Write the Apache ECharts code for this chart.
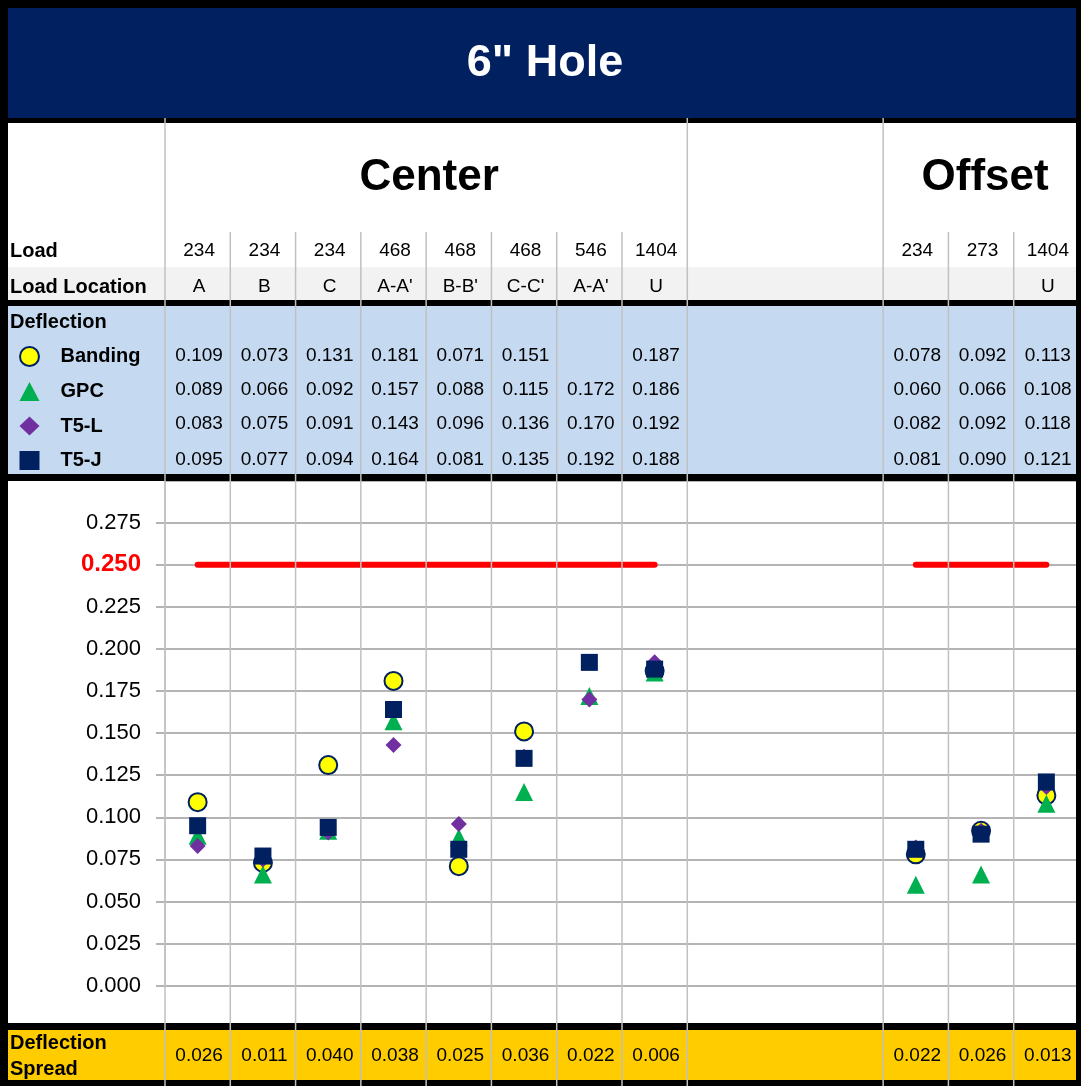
<!DOCTYPE html>
<html>
<head>
<meta charset="utf-8">
<script src="https://cdn.jsdelivr.net/npm/echarts@6/dist/echarts.min.js"></script>
<style>
  html, body { margin: 0; padding: 0; background: #fff; }
  #main { width: 1081px; height: 1086px; }
</style>
</head>
<body>
<div id="main"></div>
<script>
// 14 slots: 8 center loads, 3 empty slots, 3 offset loads
const slots = ['c1', 'c2', 'c3', 'c4', 'c5', 'c6', 'c7', 'c8', 'g1', 'g2', 'g3', 'o1', 'o2', 'o3'];
const loads = ['234', '234', '234', '468', '468', '468', '546', '1404', '', '', '', '234', '273', '1404'];
const locations = ['A', 'B', 'C', "A-A'", "B-B'", "C-C'", "A-A'", 'U', '', '', '', '', '', 'U'];

const banding = [0.109, 0.073, 0.131, 0.181, 0.071, 0.151, null, 0.187, null, null, null, 0.078, 0.092, 0.113];
const gpc = [0.089, 0.066, 0.092, 0.157, 0.088, 0.115, 0.172, 0.186, null, null, null, 0.060, 0.066, 0.108];
const t5l = [0.083, 0.075, 0.091, 0.143, 0.096, 0.136, 0.170, 0.192, null, null, null, 0.082, 0.092, 0.118];
const t5j = [0.095, 0.077, 0.094, 0.164, 0.081, 0.135, 0.192, 0.188, null, null, null, 0.081, 0.090, 0.121];
const spread = [0.026, 0.011, 0.040, 0.038, 0.025, 0.036, 0.022, 0.006, null, null, null, 0.022, 0.026, 0.013];
const limit = [0.25, 0.25, 0.25, 0.25, 0.25, 0.25, 0.25, 0.25, null, null, null, 0.25, 0.25, 0.25];

const seriesNames = ['Banding', 'GPC', 'T5-L', 'T5-J'];
const yMin = 0, yMax = 0.3, yStep = 0.025;

const FONT = '"Liberation Sans", Arial, Helvetica, sans-serif';
const NAVY = '#002060';
const GRID = '#b4b4b4';
const VLINE = '#c0c0c0';

const myChart = echarts.init(document.getElementById('main'));

const option = {
  animation: false,
  backgroundColor: '#fff',
  grid: { left: 165, right: 2, top: 480.5, bottom: 100.3, containLabel: false },
  legend: {
    orient: 'vertical',
    left: 14,
    top: 341,
    z: 20,
    selectedMode: false,
    itemWidth: 20,
    itemHeight: 19,
    itemGap: 14.5,
    textStyle: { fontFamily: FONT, fontSize: 20, fontWeight: 'bold', color: '#000', padding: [0, 0, 0, 16] },
    data: seriesNames
  },
  xAxis: {
    type: 'category',
    data: slots,
    boundaryGap: true,
    axisLine: { show: false },
    axisTick: { show: false },
    axisLabel: { show: false },
    splitLine: { show: false }
  },
  yAxis: {
    type: 'value',
    min: yMin,
    max: yMax,
    interval: yStep,
    axisLine: { show: true, lineStyle: { color: VLINE, width: 1.5 } },
    axisTick: { show: true, length: 9, lineStyle: { color: GRID, width: 2 } },
    splitLine: { show: true, lineStyle: { color: GRID, width: 2 } },
    axisLabel: {
      margin: 24,
      showMaxLabel: false,
      fontFamily: FONT,
      fontSize: 22,
      color: '#000',
      formatter: function (v) {
        if (Math.abs(v - 0.25) < 1e-9) return '{r|' + v.toFixed(3) + '}';
        return v.toFixed(3);
      },
      rich: {
        r: { fontFamily: FONT, fontSize: 24, fontWeight: 'bold', color: '#ff0000' }
      }
    }
  },
  series: [
    {
      name: 'limit',
      type: 'line',
      data: limit,
      symbol: 'none',
      connectNulls: false,
      lineStyle: { color: '#ff0000', width: 6, cap: 'round' },
      z: 2
    },
    {
      name: 'Banding',
      type: 'scatter',
      data: banding,
      symbol: 'circle',
      symbolSize: 18,
      itemStyle: { color: '#ffff00', borderColor: NAVY, borderWidth: 2, opacity: 1 },
      z: 3
    },
    {
      name: 'GPC',
      type: 'scatter',
      data: gpc,
      symbol: 'triangle',
      symbolSize: 18,
      itemStyle: { color: '#00b050', opacity: 1 },
      z: 3
    },
    {
      name: 'T5-L',
      type: 'scatter',
      data: t5l,
      symbol: 'diamond',
      symbolSize: 16,
      itemStyle: { color: '#7030a0', opacity: 1 },
      z: 3
    },
    {
      name: 'T5-J',
      type: 'scatter',
      data: t5j,
      symbol: 'rect',
      symbolSize: 17,
      itemStyle: { color: NAVY, opacity: 1 },
      z: 3
    }
  ]
};

myChart.setOption(option);

// table drawn around the plot, columns taken from the x axis
const cx = slots.map((s, i) => myChart.convertToPixel({ xAxisIndex: 0 }, i));
const colW = cx[1] - cx[0];

function rect(x, y, w, h, fill, z) {
  return { type: 'rect', z: z, silent: true, shape: { x: x, y: y, width: w, height: h }, style: { fill: fill } };
}
function vline(x, y1, y2) {
  return { type: 'line', z: 12, silent: true, shape: { x1: x, y1: y1, x2: x, y2: y2 }, style: { stroke: VLINE, lineWidth: 1.5 } };
}
function txt(x, y, s, size, bold, align, color) {
  return {
    type: 'text', z: 13, silent: true, x: x, y: y,
    style: {
      text: s, fill: color || '#000', fontFamily: FONT, fontSize: size,
      fontWeight: bold ? 'bold' : 'normal', align: align || 'center', verticalAlign: 'middle'
    }
  };
}

const g = [];
// backgrounds
g.push(rect(8, 8, 1068, 110, NAVY, 10));
g.push(rect(8, 267, 1068, 33, '#f2f2f2', 10));
g.push(rect(8, 306, 1068, 168, '#c5d9f1', 10));
g.push(rect(8, 1030, 1068, 50, '#ffcc00', 10));
// black separators and border
g.push(rect(0, 118, 1081, 5, '#000', 11));
g.push(rect(0, 300, 1081, 6, '#000', 11));
g.push(rect(0, 474, 1081, 7, '#000', 11));
g.push(rect(0, 1023, 1081, 7, '#000', 11));
g.push(rect(0, 0, 1081, 8, '#000', 11));
g.push(rect(0, 1080, 1081, 6, '#000', 11));
g.push(rect(0, 0, 8, 1086, '#000', 11));
g.push(rect(1076, 0, 5, 1086, '#000', 14));

// column lines
for (let k = 0; k <= slots.length; k++) {
  const x = cx[0] - colW / 2 + colW * k;
  if (k === 9 || k === 10) continue;
  const full = (k === 0 || k === 8 || k === 11);
  g.push(vline(x, full ? 118 : 232, 1086));
}

// title and group headings
g.push(txt(545, 64, '6" Hole', 45, true, 'center', '#fff'));
g.push(txt((cx[0] + cx[7]) / 2 + 3, 178, 'Center', 44, true));
g.push(txt((cx[11] + cx[13]) / 2 + 4, 178, 'Offset', 44, true));

// row labels
g.push(txt(10, 251, 'Load', 20, true, 'left'));
g.push(txt(10, 287, 'Load Location', 20, true, 'left'));
g.push(txt(10, 322, 'Deflection', 20, true, 'left'));
g.push(txt(10, 1043, 'Deflection', 20, true, 'left'));
g.push(txt(10, 1069, 'Spread', 20, true, 'left'));

const rowsY = [356, 390, 424, 460];
const rows = [banding, gpc, t5l, t5j];
const fmt = v => (v === null ? '' : v.toFixed(3));
slots.forEach((s, i) => {
  const x = cx[i] + 1.5;
  if (loads[i]) g.push(txt(x, 251, loads[i], 19, false));
  if (locations[i]) g.push(txt(x, 287, locations[i], 19, false));
  rows.forEach((r, j) => {
    if (r[i] !== null) g.push(txt(x, rowsY[j], fmt(r[i]), 19, false));
  });
  if (spread[i] !== null) g.push(txt(x, 1056, fmt(spread[i]), 19, false));
});

myChart.setOption({ graphic: g });
</script>
</body>
</html>
